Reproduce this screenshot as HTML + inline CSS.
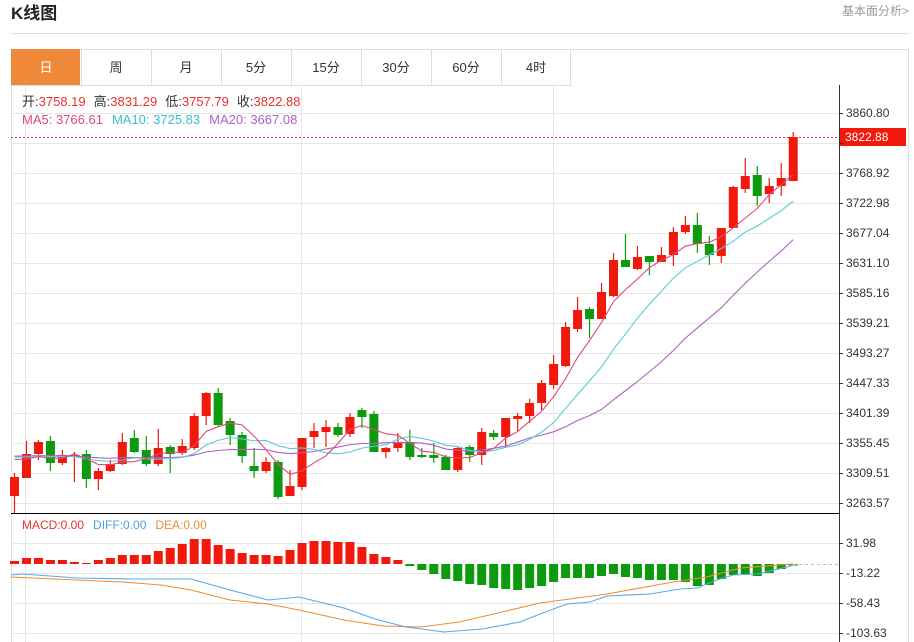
<!DOCTYPE html>
<html><head><meta charset="utf-8"><style>
body{margin:0;background:#fff;width:914px;height:642px;overflow:hidden;font-family:"Liberation Sans","Noto Sans CJK SC",sans-serif;}
svg{position:absolute;left:0;top:0}
</style></head><body>
<svg id="s" width="914" height="642" xmlns="http://www.w3.org/2000/svg" font-family="Liberation Sans, Noto Sans CJK SC, sans-serif">
<text x="11" y="19" font-size="17" font-weight="bold" fill="#222">K线图</text>
<text x="909" y="15" font-size="12" fill="#999" text-anchor="end">基本面分析&gt;</text>
<line x1="11" y1="33.5" x2="909" y2="33.5" stroke="#ddd"/>
<rect x="11.5" y="49.5" width="897" height="600" fill="none" stroke="#ddd"/>
<line x1="11" y1="85.5" x2="572" y2="85.5" stroke="#ddd"/>
<rect x="11" y="49" width="69" height="36" fill="#f0883a"/>
<g id="tabs" font-size="13" fill="#333" text-anchor="middle"></g>
<g id="grid" stroke="#e6e6e6" stroke-width="1"></g>
<g id="plot"></g>
<line x1="11" y1="513.5" x2="839" y2="513.5" stroke="#000"/>
<line x1="839.5" y1="85" x2="839.5" y2="642" stroke="#333"/>
<g id="ylab" font-size="12" fill="#333"></g>
<text x="22" y="106" font-size="13"><tspan fill="#333">开:</tspan><tspan fill="#e8312c">3758.19</tspan><tspan fill="#333" dx="8">高:</tspan><tspan fill="#e8312c">3831.29</tspan><tspan fill="#333" dx="8">低:</tspan><tspan fill="#e8312c">3757.79</tspan><tspan fill="#333" dx="8">收:</tspan><tspan fill="#e8312c">3822.88</tspan></text>
<text x="22" y="124" font-size="13"><tspan fill="#e0487a">MA5: 3766.61</tspan><tspan fill="#3bbdd0" dx="9">MA10: 3725.83</tspan><tspan fill="#b05fc4" dx="9">MA20: 3667.08</tspan></text>
<text x="22" y="529" font-size="12"><tspan fill="#e8312c">MACD:0.00</tspan><tspan fill="#4aa3e8" dx="9">DIFF:0.00</tspan><tspan fill="#f08c30" dx="9">DEA:0.00</tspan></text>
</svg>
<script>
const NS="http://www.w3.org/2000/svg";
function el(p,t,a,txt){const e=document.createElementNS(NS,t);for(const k in a)e.setAttribute(k,a[k]);if(txt!=null)e.textContent=txt;document.getElementById(p).appendChild(e);return e;}
const tabs=["日","周","月","5分","15分","30分","60分","4时"];
tabs.forEach((t,i)=>{const x=11+i*70;el("tabs","text",{x:x+35,y:72,fill:i==0?"#fff":"#333"},t);if(i>0)el("tabs","line",{x1:x+0.5,y1:49,x2:x+0.5,y2:85,stroke:"#ddd"});});
el("tabs","line",{x1:570.5,y1:49,x2:570.5,y2:85,stroke:"#ddd"});
// grid
const ylabs=["3860.80","3814.86","3768.92","3722.98","3677.04","3631.10","3585.16","3539.21","3493.27","3447.33","3401.39","3355.45","3309.51","3263.57"];
ylabs.forEach((l,i)=>{const y=113+i*30;el("grid","line",{x1:11,y1:y+0.5,x2:839,y2:y+0.5});el("ylab","line",{x1:839,y1:y+0.5,x2:843,y2:y+0.5,stroke:"#333"});if(i!=1)el("ylab","text",{x:846,y:y+4},l);});
[[31.98,543],[-13.22,573],[-58.43,603],[-103.63,633]].forEach(([v,y])=>{el("grid","line",{x1:11,y1:y+0.5,x2:839,y2:y+0.5});el("ylab","line",{x1:839,y1:y+0.5,x2:843,y2:y+0.5,stroke:"#333"});el("ylab","text",{x:846,y:y+4},v.toFixed(2));});
[25,301,553].forEach(x=>el("grid","line",{x1:x+0.5,y1:85,x2:x+0.5,y2:642}));
// candles: [color, bodyTop, bodyBot, wickTop, wickBot]  r=red g=green
const C=[["r",477,496,473,513],["r",454,478,441,478],["r",442,454,440,460],["g",441,463,436,471],["r",455,463,450,465],["r",455,457,452,482],["g",454,479,450,488],["r",471,479,468,490],["r",464,471,460,472],["r",442,464,433,465],["g",438,452,430,453],["g",450,464,436,466],["r",448,464,429,466],["g",447,454,445,473],["r",446,453,439,455],["r",416,448,413,450],["r",393,416,392,425],["g",393,425,388,427],["g",421,435,418,445],["g",435,456,432,463],["g",466,471,448,478],["r",462,471,457,473],["g",462,497,460,499],["r",486,496,470,496],["r",438,487,438,490],["r",431,437,423,448],["r",427,432,420,447],["g",427,435,423,437],["r",417,434,413,437],["g",410,417,408,428],["g",414,452,411,452],["r",448,452,447,458],["r",442,448,433,452],["g",442,457,430,460],["g",455,457,448,458],["g",455,458,443,463],["g",457,470,455,470],["r",448,470,446,472],["g",447,455,445,462],["r",432,455,428,465],["g",433,437,430,440],["r",418,437,418,447],["r",416,419,413,432],["r",403,416,399,423],["r",383,403,380,410],["r",364,385,355,389],["r",327,366,322,367],["r",310,329,297,332],["g",309,319,307,338],["r",292,319,283,319],["r",260,296,253,297],["g",260,267,234,267],["r",257,269,246,270],["g",256,262,256,275],["r",255,262,247,262],["r",232,255,227,266],["r",225,232,216,234],["g",225,244,213,253],["g",244,255,236,265],["r",228,256,228,263],["r",187,228,186,228],["r",176,189,158,193],["g",175,196,166,206],["r",186,194,178,203],["r",178,186,163,196],["r",137,181,132,181]];
const X=i=>14.5+i*11.98;
const RED="#f0190c",GRN="#0e9a0e";
// MA
const closes=C.map(c=>c[0]=="r"?c[1]:c[2]);
const pad=Array(20).fill(455).concat(closes);
function ma(n){return closes.map((_,i)=>{let s=0;for(let k=0;k<n;k++)s+=pad[i+20-k];return s/n;});}
function pl(pts,col){el("plot","polyline",{points:pts.map(p=>p.join(",")).join(" "),fill:"none",stroke:col,"stroke-width":1.1});}
// price dotted line
el("plot","line",{x1:11,y1:137.5,x2:839,y2:137.5,stroke:"#e8312c","stroke-dasharray":"2,2"});
C.forEach((c,i)=>{const x=X(i),col=c[0]=="r"?RED:GRN;el("plot","line",{x1:x,y1:c[3],x2:x,y2:Math.min(c[4],513),stroke:col,"stroke-width":1.2});el("plot","rect",{x:x-4.5,y:c[1],width:9,height:Math.max(c[2]-c[1],1.5),fill:col});});
pl(ma(20).map((v,i)=>[X(i),v]),"#b05fc4");
pl(ma(10).map((v,i)=>[X(i),v]),"#5cc9d8");
pl(ma(5).map((v,i)=>[X(i),v]),"#e0487a");
// price label
el("plot","rect",{x:840,y:128,width:66,height:18,fill:"#f0190c"});
el("plot","text",{x:845,y:141,"font-size":12,fill:"#fff"},"3822.88");
// MACD bars
const Z=564;
const M=[561,558,558,560,560,562,563,560,558,555,555,555,551,548,544,539,539,545,549,553,555,555,556,550,543,541,541,542,542,547,554,557,560,566,570,574,579,581,584,585,588,589,590,588,586,582,578,578,578,576,574,577,578,580,580,580,582,586,585,579,575,574,576,573,569,565];
M.forEach((v,i)=>{const x=X(i);if(v<Z)el("plot","rect",{x:x-4.5,y:v,width:9,height:Z-v,fill:RED});else el("plot","rect",{x:x-4.5,y:Z,width:9,height:Math.max(v-Z,1.5),fill:GRN});});
el("plot","line",{x1:793,y1:564.5,x2:839,y2:564.5,stroke:"#8fd0e0","stroke-dasharray":"3,3"});
pl([[11,577],[77,580],[122,582],[161,585],[191,590],[230,600],[268,604],[299,610],[344,620],[383,626],[421,627],[459,622],[498,613],[540,603],[607,594],[673,582],[707,577],[740,568],[793,564]],"#f08c30");
pl([[11,575],[23,574],[77,578],[134,579],[191,579],[230,590],[268,600],[299,597],[344,608],[375,619],[406,627],[444,632],[482,629],[520,622],[540,614],[567,604],[590,602],[607,596],[650,594],[680,589],[697,588],[717,580],[733,575],[757,574],[787,567],[793,565]],"#5aa9e6");
</script>
</body></html>
